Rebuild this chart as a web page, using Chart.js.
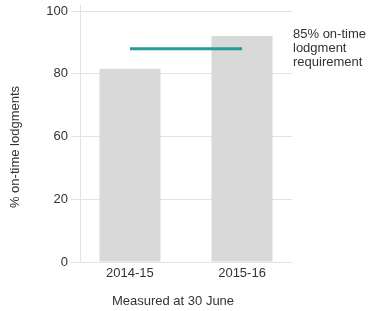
<!DOCTYPE html>
<html>
<head>
<meta charset="utf-8">
<script src="https://cdn.jsdelivr.net/npm/chart.js@4.4.1/dist/chart.umd.min.js"></script>
<style>
  html, body { margin: 0; padding: 0; background: #fff; }
  #wrap { width: 371px; height: 311px; }
</style>
</head>
<body>
<div id="wrap"><canvas id="chart" width="371" height="311"></canvas></div>
<script>
const categories = ['2014-15', '2015-16'];
const lodgedOnTime = [77, 90];
const requirement = [85, 85];
const yTickValues = [0, 25, 50, 75, 100];
const yTickLabels = ['0', '20', '60', '80', '100'];
const requirementNote = ['85% on-time', 'lodgment', 'requirement'];

const FONT = '"Liberation Sans", Arial, Helvetica, sans-serif';
const TEXT = '#333333';

// titles and the side note, drawn by hand so they sit where the original has them
const textPlugin = {
    id: 'textPlugin',
    afterDraw(chart) {
        const ctx = chart.ctx;
        ctx.save();
        ctx.fillStyle = TEXT;
        ctx.font = `13px ${FONT}`;

        // note beside the requirement line
        ctx.textAlign = 'left';
        ctx.textBaseline = 'middle';
        requirementNote.forEach((line, i) => {
            ctx.fillText(line, 293, 34 + i * 14);
        });

        // x axis title
        ctx.textAlign = 'center';
        ctx.fillText('Measured at 30 June', 173, 301);

        // y axis title
        ctx.translate(15, 147);
        ctx.rotate(-Math.PI / 2);
        ctx.fillText('% on-time lodgments', 0, 0);
        ctx.restore();
    }
};

const ctx = document.getElementById('chart').getContext('2d');
new Chart(ctx, {
    data: {
        datasets: [
            {
                type: 'line',
                data: requirement.map((v, i) => ({ x: i, y: v })),
                borderColor: '#2a9a96',
                borderWidth: 3,
                pointRadius: 0,
                fill: false,
                order: 0
            },
            {
                type: 'bar',
                data: lodgedOnTime.map((v, i) => ({ x: i, y: v })),
                backgroundColor: '#d9d9d9',
                categoryPercentage: 1,
                barPercentage: 0.545,
                order: 1
            }
        ]
    },
    options: {
        responsive: false,
        animation: false,
        layout: { padding: { top: 5, right: 79, left: 0, bottom: 0 } },
        plugins: {
            legend: { display: false },
            tooltip: { enabled: false }
        },
        scales: {
            x: {
                type: 'linear',
                offset: false,
                bounds: 'data',
                min: -0.446,
                max: 1.446,
                afterBuildTicks: (scale) => {
                    scale.ticks = categories.map((c, i) => ({ value: i }));
                },
                afterFit: (scale) => { scale.height = 49; },
                grid: { display: false, drawTicks: false },
                border: { display: false },
                ticks: {
                    padding: 4,
                    color: TEXT,
                    font: { family: FONT, size: 13 },
                    callback: (value) => categories[value]
                }
            },
            y: {
                min: 0,
                max: 102.4,   // axis line runs a little past the top gridline
                afterBuildTicks: (scale) => {
                    scale.ticks = yTickValues.map(v => ({ value: v }));
                },
                afterFit: (scale) => {
                    scale.width = 80;
                    scale.paddingTop = 0;
                    scale.paddingBottom = 0;
                },
                grid: { color: '#e3e3e3', lineWidth: 1, tickLength: 9 },
                border: { display: true, color: '#e3e3e3' },
                ticks: {
                    padding: 3,
                    color: TEXT,
                    font: { family: FONT, size: 13 },
                    callback: (value, index) => yTickLabels[index]
                }
            }
        }
    },
    plugins: [textPlugin]
});
</script>
</body>
</html>
